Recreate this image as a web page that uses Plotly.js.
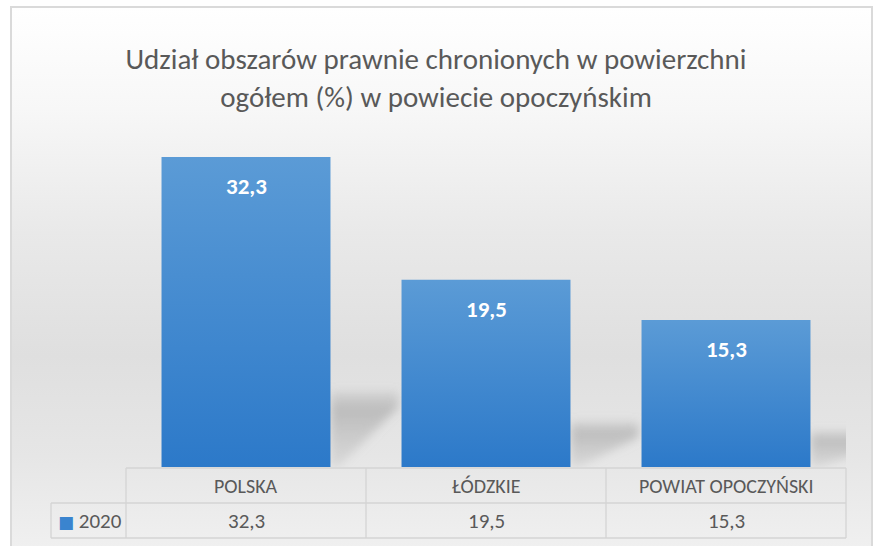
<!DOCTYPE html>
<html>
<head>
<meta charset="utf-8">
<script src="https://cdn.plot.ly/plotly-3.0.1.min.js"></script>
<style>
  html, body { margin: 0; padding: 0; width: 879px; height: 546px; overflow: hidden; background: #ffffff; }
  #frame {
    position: absolute; left: 10px; top: 6px; width: 859px; height: 560px;
    border: 2px solid #dadada; border-bottom: none;
    background: linear-gradient(to bottom, #ffffff 0%, #f7f7f7 18%, #e9e9e9 40%, #dfdfdf 62%, #e6e6e6 80%, #f2f2f2 100%);
  }
  #chart { position: absolute; left: 0; top: 0; width: 879px; height: 546px; }
</style>
</head>
<body>
<div id="frame"></div>
<div id="chart"></div>
<script>
// ---- data ----
const categories = ["POLSKA", "ŁÓDZKIE", "POWIAT OPOCZYŃSKI"];
const values = [32.3, 19.5, 15.3];
const seriesName = "2020";
const titleText = "Udział obszarów prawnie chronionych w powierzchni<br>ogółem (%) w powiecie opoczyńskim";

// ---- layout constants (pixels) ----
const W = 879, H = 546;
const L = 126, R = 33, T = 131, B = 79;
const plotW = W - L - R, plotH = H - T - B;
const pxX = px => px / (plotW / categories.length); // pixel -> x data units
const pxPaperX = px => px / plotW;                  // pixel -> paper x units
const pyPaper = py => -py / plotH;                  // pixels below axis -> paper y
const fontFam = "Carlito, Lato, 'Open Sans', sans-serif";
const grey = "#595959";
const lineCol = "#d4d4d4";

const fmt = v => v.toFixed(1).replace(".", ",");
const xIdx = categories.map((c, i) => i);
const barWidth = 0.704;

const shapes = [];
// soft perspective shadows behind bars
xIdx.forEach(i => {
  const xr = i + barWidth / 2;
  const hs = values[i] * 0.245;
  const hb = hs - 16 / (plotH / 35);
  shapes.push({
    type: "path", layer: "below", xref: "x", yref: "y",
    path: `M ${xr} 0 L ${xr} ${hs} L ${xr + pxX(68)} ${hs} L ${xr + pxX(68)} ${hb} L ${xr + pxX(8)} 0 Z`,
    fillcolor: "rgba(140,140,140,0.35)", line: { width: 0 }
  });
});
// data table lines (paper coords)
const rowH = 35;
const pxL = 0, pxR = 1;
const legLeft = pxPaperX(51 - L);
const colW = 1 / categories.length;
const hline = (x0, x1, py) => ({ type: "line", xref: "paper", yref: "paper", x0, x1, y0: pyPaper(py), y1: pyPaper(py), line: { color: lineCol, width: 1.3 } });
const vline = (x, py0, py1) => ({ type: "line", xref: "paper", yref: "paper", x0: x, x1: x, y0: pyPaper(py0), y1: pyPaper(py1), line: { color: lineCol, width: 1.3 } });
shapes.push(hline(pxL, pxR, 1));
shapes.push(hline(legLeft, pxR, 1 + rowH));
shapes.push(hline(legLeft, pxR, 1 + 2 * rowH));
shapes.push(vline(legLeft, 1 + rowH, 1 + 2 * rowH));
for (let k = 0; k <= categories.length; k++) {
  shapes.push(vline(k * colW, 1, 1 + 2 * rowH));
}

const annotations = [];
xIdx.forEach(i => {
  // value labels on bars
  annotations.push({
    x: categories[i], y: values[i], xref: "x", yref: "y", yshift: -29,
    text: fmt(values[i]), showarrow: false,
    font: { family: fontFam, size: 23, color: "#ffffff", weight: "bold" }
  });
  // category header
  annotations.push({
    x: categories[i], y: pyPaper(1 + rowH / 2), xref: "x", yref: "paper",
    text: categories[i], showarrow: false, yanchor: "middle",
    font: { family: fontFam, size: 20, color: grey }
  });
  // value row
  annotations.push({
    x: categories[i], y: pyPaper(1 + rowH * 1.5), xref: "x", yref: "paper",
    text: fmt(values[i]), showarrow: false, yanchor: "middle",
    font: { family: fontFam, size: 21, color: grey }
  });
});
// legend key in table
annotations.push({
  x: legLeft + pxPaperX(5), y: pyPaper(1 + rowH * 1.5), xref: "paper", yref: "paper",
  xanchor: "left", yanchor: "middle", showarrow: false,
  text: `<span style="color:#3a84cf;font-size:17px;font-family:'DejaVu Sans'">■</span> ${seriesName}`,
  font: { family: fontFam, size: 21, color: grey }
});

const data = [{
  type: "bar", x: categories, y: values, name: seriesName,
  width: barWidth,
  marker: { color: "#4289d3", line: { width: 0 } },
  hoverinfo: "none"
}];

const layout = {
  width: W, height: H,
  margin: { l: L, r: R, t: T, b: B, pad: 0 },
  paper_bgcolor: "rgba(0,0,0,0)", plot_bgcolor: "rgba(0,0,0,0)",
  showlegend: false,
  title: {
    text: titleText, x: 0.496, xref: "container", xanchor: "center",
    y: 1 - 69 / H, yref: "container", yanchor: "middle",
    font: { family: fontFam, size: 29, color: grey, weight: 300 }
  },
  xaxis: { type: "category", range: [-0.5, categories.length - 0.5], showticklabels: false, showgrid: false, zeroline: false, showline: false, ticks: "", fixedrange: true },
  yaxis: { range: [0, 35], visible: false, showgrid: false, zeroline: false, fixedrange: true },
  shapes, annotations
};

Plotly.newPlot("chart", data, layout, { displayModeBar: false, staticPlot: true }).then(gd => {
  const NS = "http://www.w3.org/2000/svg";
  const svg = gd.querySelector("svg.main-svg");
  let defs = svg.querySelector("defs");
  if (!defs) { defs = document.createElementNS(NS, "defs"); svg.insertBefore(defs, svg.firstChild); }
  const mkGrad = (id, stops, x2, y2) => {
    const g = document.createElementNS(NS, "linearGradient");
    g.setAttribute("id", id);
    g.setAttribute("x1", "0"); g.setAttribute("y1", "0");
    g.setAttribute("x2", x2); g.setAttribute("y2", y2);
    stops.forEach(([o, c, op]) => {
      const s = document.createElementNS(NS, "stop");
      s.setAttribute("offset", o); s.setAttribute("stop-color", c); s.setAttribute("stop-opacity", op);
      g.appendChild(s);
    });
    defs.appendChild(g);
  };
  mkGrad("barGrad", [["0", "#5b9bd6", 1], ["1", "#2c79c9", 1]], "0", "1");
  mkGrad("shadowGrad", [["0", "#8c8c8c", 0.15], ["0.25", "#8c8c8c", 0.45], ["0.6", "#a0a0a0", 0.38], ["1", "#b8b8b8", 0.3]], "0", "1");
  const filt = document.createElementNS(NS, "filter");
  filt.setAttribute("id", "softBlur");
  filt.setAttribute("x", "-30%"); filt.setAttribute("y", "-30%");
  filt.setAttribute("width", "160%"); filt.setAttribute("height", "160%");
  const blur = document.createElementNS(NS, "feGaussianBlur");
  blur.setAttribute("stdDeviation", "5");
  filt.appendChild(blur);
  defs.appendChild(filt);
  gd.querySelectorAll(".bars .point path").forEach(p => { p.style.fill = "url(#barGrad)"; });
  gd.querySelectorAll(".shapelayer path[data-index]").forEach(p => {
    const idx = +p.getAttribute("data-index");
    if (idx < categories.length) {
      p.style.fill = "url(#shadowGrad)"; p.style.fillOpacity = 1;
      p.setAttribute("filter", "url(#softBlur)");
    }
  });
});
</script>
</body>
</html>
